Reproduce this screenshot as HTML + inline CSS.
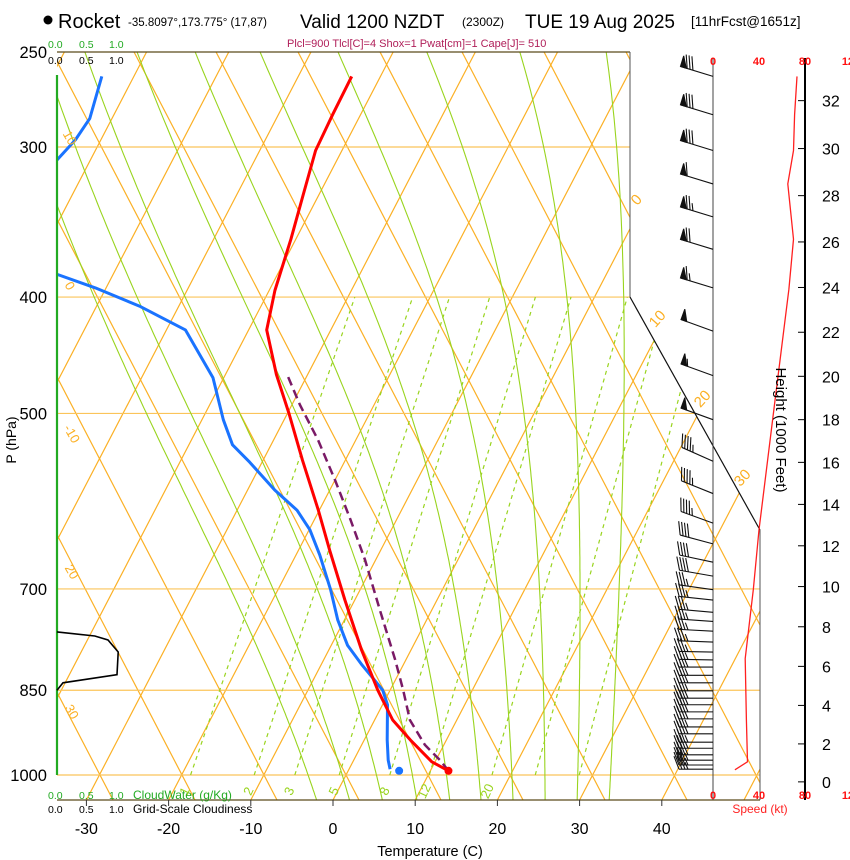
<!DOCTYPE html>
<html><head><meta charset="utf-8"><title>Skew-T Rocket</title>
<style>
html,body{margin:0;padding:0;background:#fff;}
body{width:850px;height:860px;overflow:hidden;font-family:"Liberation Sans",Arial,sans-serif;}
svg{display:block;}
text{font-family:"Liberation Sans",Arial,sans-serif;}
</style></head>
<body>
<svg id="chart" xmlns="http://www.w3.org/2000/svg" width="850" height="860" viewBox="0 0 850 860">
  <defs>
    <clipPath id="plotClip"><polygon points="57,52 630,52 630,297 760,530 760,800 57,800"/></clipPath>
    <clipPath id="upperClip"><polygon points="57,52 630,52 630,297 760,530 760,800 57,800"/></clipPath>
  </defs>
  <g id="grid" clip-path="url(#plotClip)"></g>
  <g id="series" clip-path="url(#plotClip)"></g>
  <g id="frame">
    <line x1="57" y1="52" x2="630" y2="52" stroke="#5a4a1a" stroke-width="1.2"/>
    <line x1="630" y1="52" x2="630" y2="297" stroke="#555" stroke-width="1"/>
    <line x1="630" y1="297" x2="760" y2="530" stroke="#111" stroke-width="1.2"/>
    <line x1="760" y1="530" x2="760" y2="800" stroke="#555" stroke-width="1"/>
    <line x1="57" y1="800" x2="760" y2="800" stroke="#5a4a1a" stroke-width="1.2"/>
    <line x1="713" y1="58" x2="713" y2="800" stroke="#444" stroke-width="1"/>
    <line x1="805" y1="58" x2="805" y2="800" stroke="#000" stroke-width="2"/>
  </g>
  <g id="extras"></g>
  <g id="texts">
    <circle cx="48" cy="20" r="4.5" fill="#000"/>
    <text x="58" y="28" font-size="20">Rocket</text>
    <text x="128" y="26" font-size="11.5">-35.8097°,173.775° (17,87)</text>
    <text x="300" y="28" font-size="19">Valid 1200 NZDT</text>
    <text x="462" y="26" font-size="12">(2300Z)</text>
    <text x="525" y="28" font-size="19">TUE 19 Aug 2025</text>
    <text x="691" y="26" font-size="13.5">[11hrFcst@1651z]</text>
    <text x="287" y="47" font-size="11" fill="#b0205a">Plcl=900 Tlcl[C]=4 Shox=1 Pwat[cm]=1 Cape[J]= 510</text>
    <g font-size="10.5" fill="#22aa22"><text x="48" y="48">0.0</text><text x="79" y="48">0.5</text><text x="109" y="48">1.0</text></g>
    <g font-size="10.5" fill="#000"><text x="48" y="64">0.0</text><text x="79" y="64">0.5</text><text x="109" y="64">1.0</text></g>
    <g font-size="10.5" fill="#22aa22"><text x="48" y="799">0.0</text><text x="79" y="799">0.5</text><text x="109" y="799">1.0</text><text x="133" y="799" font-size="12">CloudWater (g/Kg)</text></g>
    <g font-size="10.5" fill="#000"><text x="48" y="813">0.0</text><text x="79" y="813">0.5</text><text x="109" y="813">1.0</text><text x="133" y="813" font-size="12">Grid-Scale Cloudiness</text></g>
    <text transform="translate(16,440) rotate(-90)" font-size="14" text-anchor="middle">P (hPa)</text>
    <text x="430" y="856" font-size="14.5" text-anchor="middle">Temperature (C)</text>
    <text transform="translate(776,430) rotate(90)" font-size="15" text-anchor="middle">Height (1000 Feet)</text>
    <text x="760" y="813" font-size="12" fill="#ff2222" text-anchor="middle">Speed (kt)</text>
  </g>
</svg>
<script>
// ---------- data ----------
var tempP = [992,975,935,900,850,787,715,650,601,547,500,464,426,395,358,329,302,282,262];
var tempT = [12.2,9.6,5.6,2.2,-1.5,-6.0,-11.2,-16.2,-20.2,-25.2,-29.8,-33.8,-37.8,-39.3,-40.6,-41.9,-43.2,-43.4,-43.5];
var dewP = [989,972,935,874,850,834,810,780,743,701,656,625,602,579,549,531,506,467,426,407,393,383,350,308,296,284,262];
var dewT = [5.0,4.2,2.8,0.6,-0.9,-2.5,-5.0,-8.0,-10.8,-13.6,-17.1,-19.9,-22.7,-26.7,-31.5,-34.7,-37.4,-41.3,-47.7,-54.8,-61.3,-66.8,-80,-74.1,-73.1,-72.7,-73.9];
var parcelP = [992,972,944,900,850,802,729,662,613,568,526,492,464];
var parcelT = [12.2,10.5,7.7,4.3,1.6,-1.3,-6.3,-11.3,-15.6,-20.0,-24.6,-29.0,-32.5];
var sfcTemp = 12.2, sfcDew = 6.2, sfcP = 992;
var cloudP = [850,838,825,790,772,766,760];
var cloudFrac = [0,0.1,1.0,1.02,0.85,0.63,0];
var speedP = [262,282,302,322,358,394,487,625,701,800,900,975,990];
var speedKt = [73,71,70,65,70,66,54,40,35,28,29,30,19];
var barbP = [262,282,302,322,343,365,393,427,465,506,548,583,617,642,665,683,701,715,732,745,759,775,790,802,813,826,838,851,863,874,886,898,912,924,939,950,962,972,981,989];
var barbSpd = [80,80,80,60,75,70,65,50,55,50,45,45,45,40,40,40,35,35,35,35,35,35,35,35,35,35,35,35,35,35,35,35,35,35,35,35,35,35,35,35];
var barbDir = [287,287,287,287,287,287,287,290,290,290,294,292,290,285,282,280,278,276,275,274,273,272,271,271,270,270,270,270,270,270,270,270,270,270,270,270,270,270,270,270];
var pressLabels = [250,300,400,500,700,850,1000];
var tempTicks = [-30,-20,-10,0,10,20,30,40];
var heightTicks = [0,2,4,6,8,10,12,14,16,18,20,22,24,26,28,30,32];
var speedTicks = [0,40,80,120];
var mixLabels = ["1","2","3","5","8","12","20"];
var mixEff = [0.86,1.63,2.4,3.6,5.6,7.8,12.9,18,25];
var moistStart = [-2,2,6,10.2,14.2,18,21.9,25.8,29.7,33.6];

// ---------- axis functions ----------
function Y(p){ return 775 - 521.6*Math.log(1000/p); }
function X(T,p){ return 333 + 8.22*T + 0.52*(800 - Y(p)); }
function XT(T,y){ return 333 + 8.22*T + 0.52*(800 - y); }
function SX(kt){ return 713 + kt*1.15; }
function hToP(kft){ var m = kft*1000*0.3048; return 1013.25*Math.pow(1-6.5e-3*m/288.15,5.2559); }
function CX(f){ return 57 + f*60; }

var NS = "http://www.w3.org/2000/svg";
function mk(tag, attrs, parent){
  var e = document.createElementNS(NS, tag);
  for (var k in attrs) e.setAttribute(k, attrs[k]);
  parent.appendChild(e);
  return e;
}
function pts(xs, ys){ var s=[]; for(var i=0;i<xs.length;i++) s.push(xs[i].toFixed(1)+","+ys[i].toFixed(1)); return s.join(" "); }

var grid = document.getElementById('grid');
var series = document.getElementById('series');
var extras = document.getElementById('extras');
var texts = document.getElementById('texts');
var ORANGE = "#fbb025", GREEN = "#99d41e";

// isotherms
for (var T=-120; T<=60; T+=10){
  var e = mk('line',{x1:XT(T,800),y1:800,x2:XT(T,52),y2:52,stroke:ORANGE,'stroke-width':1.2},grid);
  
  
}
// dry adiabats (straight in this projection)
for (var k=-6; k<=14; k++){
  var c = 346 + 82*k;
  var e = mk('line',{x1:c+0.52*(800-775),y1:800,x2:c+0.52*(52-775),y2:52,stroke:ORANGE,'stroke-width':1.2},grid);
  
  
}
// pressure lines
var plines = [300,400,500,700,850,1000];
for (var i=0;i<plines.length;i++){
  var e = mk('line',{x1:57,y1:Y(plines[i]),x2:760,y2:Y(plines[i]),stroke:"#fbc45a",'stroke-width':1.2},grid);
  
  
}
// moist adiabats
for (var i=0;i<moistStart.length;i++){
  var Tk = moistStart[i]+273.15, xs=[], ys=[];
  for (var p=1049; p>=245; p-=5){
    xs.push(X(Tk-273.15,p)); ys.push(Y(p));
    var es = 6.112*Math.exp(17.67*(Tk-273.15)/(Tk-29.65));
    var rs = 0.622*es/(p-es);
    var d = (287*Tk + 2.5e6*rs)/(p*(1004 + 2.5e6*2.5e6*rs*0.622/(287*Tk*Tk)));
    Tk -= d*5;
  }
  var e = mk('polyline',{points:pts(xs,ys),fill:'none',stroke:GREEN,'stroke-width':1.1},grid);
  
  
}
// mixing ratio lines
function tdFromE(e){ var l=Math.log(e/6.112); return 243.5*l/(17.67-l); }
for (var i=0;i<mixEff.length;i++){
  var r = mixEff[i];
  var t1 = tdFromE(r*1000/(622+r)), t2 = tdFromE(r*400/(622+r));
  var e = mk('line',{x1:X(t1,1000),y1:Y(1000),x2:X(t2,400),y2:Y(400),stroke:GREEN,'stroke-width':1.2,'stroke-dasharray':'4,4'},grid);
  
  
  if (i < mixLabels.length){
    var t3 = tdFromE(r*1035/(622+r));
    var lx = X(t3,1035)+4, ly = Y(1035);
    var tx = mk('text',{x:lx,y:ly,'font-size':13,fill:GREEN,'text-anchor':'middle',transform:'rotate(-65 '+lx+' '+ly+')'},texts);
    tx.textContent = mixLabels[i];
    
    
  }
}
// isotherm labels
var isoLab = [[0,640,203,"0"],[10,661,322,"10"],[20,706,402,"20"],[30,746,481,"30"]];
for (var i=0;i<isoLab.length;i++){
  var t = mk('text',{x:isoLab[i][1],y:isoLab[i][2],'font-size':15,fill:ORANGE,'text-anchor':'middle',transform:'rotate(-48 '+isoLab[i][1]+' '+isoLab[i][2]+')'},texts);
  t.textContent = isoLab[i][3];
  
  
}
var adLab = [[66,140,"10"],[66,288,"0"],[68,436,"-10"],[68,574,"20"],[68,714,"30"]];
for (var i=0;i<adLab.length;i++){
  var t = mk('text',{x:adLab[i][0],y:adLab[i][1],'font-size':13,fill:ORANGE,'text-anchor':'middle',transform:'rotate(60 '+adLab[i][0]+' '+adLab[i][1]+')'},texts);
  t.textContent = adLab[i][2];
  
  
}

// cloudwater zero line
var gl = mk('line',{x1:57,y1:75,x2:57,y2:775,stroke:"#22aa22",'stroke-width':2.2},extras);


// cloudiness
var cl = mk('polyline',{points:pts(cloudFrac.map(CX),cloudP.map(Y)),fill:'none',stroke:'#000','stroke-width':1.6},extras);



// series
var dl = mk('polyline',{points:pts(dewT.map(function(t,i){return X(t,dewP[i]);}),dewP.map(Y)),fill:'none',stroke:'#1a73ff','stroke-width':3,'stroke-linejoin':'round'},series);


var pl = mk('polyline',{points:pts(parcelT.map(function(t,i){return X(t,parcelP[i]);}),parcelP.map(Y)),fill:'none',stroke:'#7a1a66','stroke-width':2.5,'stroke-dasharray':'9,5'},series);


var tl = mk('polyline',{points:pts(tempT.map(function(t,i){return X(t,tempP[i]);}),tempP.map(Y)),fill:'none',stroke:'#ff0000','stroke-width':3,'stroke-linejoin':'round'},series);


var d1 = mk('circle',{cx:X(sfcDew,sfcP),cy:Y(sfcP),r:4,fill:'#1a73ff'},series);


var d2 = mk('circle',{cx:X(sfcTemp,sfcP),cy:Y(sfcP),r:4,fill:'#ff0000'},series);



// wind speed profile
var sl = mk('polyline',{points:pts(speedKt.map(SX),speedP.map(Y)),fill:'none',stroke:'#ff2020','stroke-width':1.3},extras);



// wind barbs
for (var i=0;i<barbP.length;i++){
  var by = Y(barbP[i]), bx = 713;
  var th = barbDir[i]*Math.PI/180;
  var ux = Math.sin(th), uy = -Math.cos(th);
  var L = 34;
  var tx = bx+ux*L, ty = by+uy*L;
  var nx = uy, ny = -ux; if (ny > 0){ nx=-nx; ny=-ny; }
  var g = mk('g',{stroke:'#111','stroke-width':1.1,fill:'#111'},extras);
  
  
  mk('line',{x1:bx,y1:by,x2:tx,y2:ty},g);
  var s = barbSpd[i], pos = 0;
  while (s >= 50){
    var ax = tx-ux*pos, ay = ty-uy*pos;
    var bx2 = tx-ux*(pos+6), by2 = ty-uy*(pos+6);
    mk('polygon',{points:ax+","+ay+" "+(ax+nx*11)+","+(ay+ny*11)+" "+bx2+","+by2},g);
    pos += 7; s -= 50;
  }
  while (s >= 10){
    var ax = tx-ux*pos, ay = ty-uy*pos;
    mk('line',{x1:ax,y1:ay,x2:ax+nx*13+ux*5,y2:ay+ny*13+uy*5},g);
    pos += 3; s -= 10;
  }
  if (s >= 5){
    var ax = tx-ux*pos, ay = ty-uy*pos;
    mk('line',{x1:ax,y1:ay,x2:ax+nx*7+ux*3,y2:ay+ny*7+uy*3},g);
  }
}

// pressure labels
for (var i=0;i<pressLabels.length;i++){
  var t = mk('text',{x:47,y:Y(pressLabels[i])+6,'font-size':16.5,'text-anchor':'end'},texts);
  t.textContent = pressLabels[i];
  
  
}
// temperature ticks
for (var i=0;i<tempTicks.length;i++){
  var x = XT(tempTicks[i],800);
  var tk = mk('line',{x1:x,y1:800,x2:x,y2:806,stroke:'#333','stroke-width':1},texts);
  
  
  var t = mk('text',{x:x,y:834,'font-size':16,'text-anchor':'middle'},texts);
  t.textContent = tempTicks[i];
  
  
}
// height ticks
for (var i=0;i<heightTicks.length;i++){
  var y = Y(hToP(heightTicks[i]));
  var tk = mk('line',{x1:798,y1:y,x2:805,y2:y,stroke:'#000','stroke-width':1},texts);
  
  
  var t = mk('text',{x:822,y:y+6,'font-size':16},texts);
  t.textContent = heightTicks[i];
  
  
}
// speed ticks
for (var i=0;i<speedTicks.length;i++){
  var x = SX(speedTicks[i]);
  var t = mk('text',{x:x,y:65,'font-size':11,'font-weight':'bold',fill:'#ff1010','text-anchor':'middle'},texts);
  t.textContent = speedTicks[i];
  
  
  var t2 = mk('text',{x:x,y:799,'font-size':11,'font-weight':'bold',fill:'#ff1010','text-anchor':'middle'},texts);
  t2.textContent = speedTicks[i];
  
  
}
</script>
</body></html>
